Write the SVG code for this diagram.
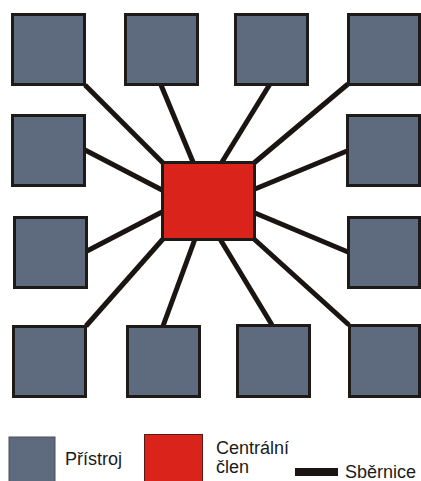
<svg xmlns="http://www.w3.org/2000/svg" width="421" height="481" viewBox="0 0 421 481">
<style>
.dev{fill:#5e6b7e;stroke:#1e1a18;stroke-width:3}
.ctr{fill:#da241b;stroke:#1e1a18;stroke-width:3}
.bus{stroke:#1a1412;stroke-width:5;stroke-linecap:butt;fill:none}
.t{font-family:"Liberation Sans",Arial,sans-serif;font-size:18px;fill:#1a1a1a}
</style>
<rect width="421" height="481" fill="#ffffff"/>
<g id="connectors">
<line class="bus" x1="85" y1="85" x2="163" y2="163"/>
<line class="bus" x1="161" y1="85" x2="193" y2="162"/>
<line class="bus" x1="270" y1="84" x2="222" y2="162"/>
<line class="bus" x1="348" y1="84" x2="254" y2="163"/>
<line class="bus" x1="85" y1="150" x2="162" y2="190"/>
<line class="bus" x1="347" y1="151" x2="255" y2="189"/>
<line class="bus" x1="87" y1="251" x2="162" y2="212"/>
<line class="bus" x1="348" y1="252" x2="255" y2="213"/>
<line class="bus" x1="86" y1="326" x2="163" y2="239"/>
<line class="bus" x1="163" y1="326" x2="195" y2="239"/>
<line class="bus" x1="272" y1="325" x2="220" y2="239"/>
<line class="bus" x1="349" y1="325" x2="254" y2="239"/>
</g>
<g id="d1"><rect class="dev" x="12.5" y="14.5" width="72" height="70"/></g>
<g id="d2"><rect class="dev" x="125.5" y="14.5" width="72" height="70"/></g>
<g id="d3"><rect class="dev" x="235.5" y="14.5" width="72" height="70"/></g>
<g id="d4"><rect class="dev" x="348.5" y="14.5" width="71" height="70"/></g>
<g id="d5"><rect class="dev" x="12.5" y="115.5" width="72" height="70"/></g>
<g id="d6"><rect class="dev" x="347.5" y="115.5" width="72" height="70"/></g>
<g id="d7"><rect class="dev" x="14.5" y="217.5" width="72" height="70"/></g>
<g id="d8"><rect class="dev" x="348.5" y="217.5" width="71" height="70"/></g>
<g id="d9"><rect class="dev" x="13.5" y="326.5" width="72" height="70"/></g>
<g id="d10"><rect class="dev" x="127.5" y="326.5" width="72" height="70"/></g>
<g id="d11"><rect class="dev" x="237.5" y="325.5" width="72" height="71"/></g>
<g id="d12"><rect class="dev" x="349.5" y="325.5" width="70" height="71"/></g>
<g id="central"><rect class="ctr" x="162.5" y="162.5" width="92" height="77"/></g>
<g id="legend">
<rect x="9" y="437" width="46" height="46" fill="#5e6b7e" stroke="#4a4f58" stroke-width="1"/>
<text class="t" x="65" y="465">Přístroj</text>
<rect x="144.5" y="434.5" width="58" height="48" fill="#da241b" stroke="#5a1a14" stroke-width="1"/>
<text class="t" x="216" y="454">Centrální</text>
<text class="t" x="216" y="473">člen</text>
<rect x="295" y="468" width="43" height="8" fill="#1a1412"/>
<text class="t" x="345" y="478">Sběrnice</text>
</g>
</svg>
